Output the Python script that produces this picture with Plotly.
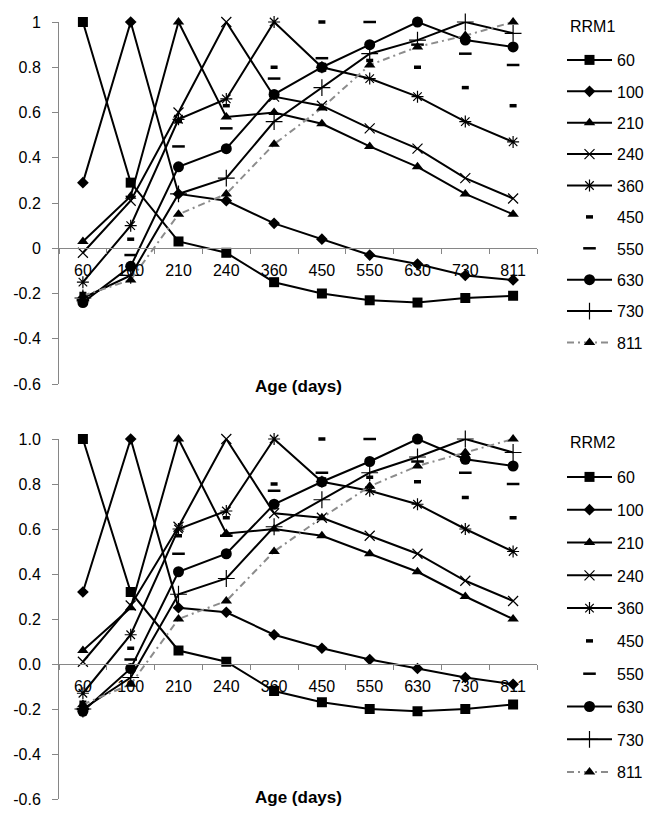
import plotly.graph_objects as go

ages = ["60", "100", "210", "240", "360", "450", "550", "630", "730", "811"]

# RRM1 (top panel) - one list per series
rrm1_60 = [1.00, 0.29, 0.03, -0.02, -0.15, -0.20, -0.23, -0.24, -0.22, -0.21]
rrm1_100 = [0.29, 1.00, 0.24, 0.21, 0.11, 0.04, -0.03, -0.07, -0.12, -0.14]
rrm1_210 = [0.03, 0.23, 1.00, 0.58, 0.60, 0.55, 0.45, 0.36, 0.24, 0.15]
rrm1_240 = [-0.02, 0.21, 0.60, 1.00, 0.67, 0.63, 0.53, 0.44, 0.31, 0.22]
rrm1_360 = [-0.15, 0.10, 0.57, 0.66, 1.00, 0.80, 0.75, 0.67, 0.56, 0.47]
rrm1_450 = [-0.20, 0.04, 0.56, 0.63, 0.80, 1.00, 0.83, 0.80, 0.71, 0.63]
rrm1_550 = [-0.23, -0.03, 0.45, 0.53, 0.75, 0.84, 1.00, 0.90, 0.86, 0.81]
rrm1_630 = [-0.24, -0.08, 0.36, 0.44, 0.68, 0.80, 0.90, 1.00, 0.92, 0.89]
rrm1_730 = [-0.22, -0.12, 0.24, 0.31, 0.56, 0.71, 0.86, 0.92, 1.00, 0.95]
rrm1_811 = [-0.21, -0.14, 0.15, 0.24, 0.46, 0.62, 0.81, 0.89, 0.94, 1.00]

# RRM2 (bottom panel)
rrm2_60 = [1.00, 0.32, 0.06, 0.01, -0.12, -0.17, -0.20, -0.21, -0.20, -0.18]
rrm2_100 = [0.32, 1.00, 0.25, 0.23, 0.13, 0.07, 0.02, -0.02, -0.06, -0.09]
rrm2_210 = [0.06, 0.25, 1.00, 0.58, 0.60, 0.57, 0.49, 0.41, 0.30, 0.20]
rrm2_240 = [0.01, 0.26, 0.61, 1.00, 0.67, 0.65, 0.57, 0.49, 0.37, 0.28]
rrm2_360 = [-0.13, 0.13, 0.60, 0.68, 1.00, 0.81, 0.77, 0.71, 0.60, 0.50]
rrm2_450 = [-0.17, 0.07, 0.57, 0.65, 0.80, 1.00, 0.83, 0.81, 0.74, 0.65]
rrm2_550 = [-0.20, 0.02, 0.49, 0.57, 0.77, 0.85, 1.00, 0.90, 0.85, 0.80]
rrm2_630 = [-0.21, -0.02, 0.41, 0.49, 0.71, 0.81, 0.90, 1.00, 0.91, 0.88]
rrm2_730 = [-0.20, -0.06, 0.31, 0.38, 0.61, 0.73, 0.85, 0.92, 1.00, 0.94]
rrm2_811 = [-0.18, -0.09, 0.20, 0.28, 0.50, 0.65, 0.79, 0.88, 0.94, 1.00]

series_names = ["60", "100", "210", "240", "360", "450", "550", "630", "730", "811"]
rrm1_series = [rrm1_60, rrm1_100, rrm1_210, rrm1_240, rrm1_360,
               rrm1_450, rrm1_550, rrm1_630, rrm1_730, rrm1_811]
rrm2_series = [rrm2_60, rrm2_100, rrm2_210, rrm2_240, rrm2_360,
               rrm2_450, rrm2_550, rrm2_630, rrm2_730, rrm2_811]

ytick_vals = [1.0, 0.8, 0.6, 0.4, 0.2, 0.0, -0.2, -0.4, -0.6]
ytick_text1 = ["1", "0.8", "0.6", "0.4", "0.2", "0", "-0.2", "-0.4", "-0.6"]
ytick_text2 = ["1.0", "0.8", "0.6", "0.4", "0.2", "0.0", "-0.2", "-0.4", "-0.6"]

FONT = "Liberation Sans, Arial, sans-serif"
BLACK = "#000000"
AXIS_GRAY = "#868686"

styles = {
    "60": dict(mode="lines+markers", symbol="square", size=10, line=dict(color=BLACK, width=2)),
    "100": dict(mode="lines+markers", symbol="diamond", size=9, line=dict(color=BLACK, width=2)),
    "210": dict(mode="lines+markers", symbol="triangle-up", size=10, line=dict(color=BLACK, width=2)),
    "240": dict(mode="lines+markers", symbol="x-thin", size=10, line=dict(color=BLACK, width=2)),
    "360": dict(mode="lines+markers", symbol="asterisk", size=10, line=dict(color=BLACK, width=2)),
    "450": dict(mode="markers", symbol="line-ew", size=5, line=None),
    "550": dict(mode="markers", symbol="line-ew", size=9, line=None),
    "630": dict(mode="lines+markers", symbol="circle", size=11, line=dict(color=BLACK, width=2)),
    "730": dict(mode="lines+markers", symbol="cross-thin", size=12, line=dict(color=BLACK, width=2)),
    "811": dict(mode="lines+markers", symbol="triangle-up", size=10,
                line=dict(color="#8c8c8c", width=2, dash="7px,4px,2px,4px")),
}

open_syms = {"x-thin", "asterisk", "cross-thin", "line-ew"}


def marker_for(name):
    st = styles[name]
    sym = st["symbol"]
    if sym in open_syms:
        lw = 1.2
        if name == "450":
            lw = 3.5
        elif name == "550":
            lw = 2.5
        return dict(symbol=sym, size=st["size"], color=BLACK,
                    line=dict(color=BLACK, width=lw))
    return dict(symbol=sym, size=st["size"], color=BLACK, line=dict(width=0))


fig = go.Figure()

for panel, (series, xa, ya, leg) in enumerate([
        (rrm1_series, "x", "y", "legend"),
        (rrm2_series, "x2", "y2", "legend2")]):
    for name, vals in zip(series_names, series):
        st = styles[name]
        kw = dict(x=ages, y=vals, name=name, mode=st["mode"],
                  marker=marker_for(name), xaxis=xa, yaxis=ya,
                  legend=leg, legendgroup=f"p{panel}_{name}", cliponaxis=False)
        if st["line"] is not None:
            kw["line"] = st["line"]
        fig.add_trace(go.Scatter(**kw))

# layout geometry (pixels -> paper fractions)
W, H = 647, 814
ML, MR, MT, MB = 59, 110, 22, 15
plot_h = H - MT - MB
plot_w = W - ML - MR


def fy(py):
    return (H - MB - py) / plot_h


def fx(px):
    return (px - ML) / plot_w


top_dom = [fy(384), 1.0]
bot_dom = [0.0, fy(439)]
zero_frac = 0.6 / 1.6


def yaxis_cfg(dom, ticktext):
    return dict(domain=dom, range=[-0.6, 1.0], tickvals=ytick_vals, ticktext=ticktext,
                showgrid=False, zeroline=False, showline=True, linecolor=AXIS_GRAY,
                linewidth=1, ticks="outside", ticklen=6, tickcolor=AXIS_GRAY,
                ticklabelstandoff=8,
                tickfont=dict(family=FONT, size=16, color=BLACK), fixedrange=True)


def xaxis_cfg(dom_y):
    pos = dom_y[0] + zero_frac * (dom_y[1] - dom_y[0])
    return dict(type="category", categoryorder="array", categoryarray=ages,
                domain=[0, 1], anchor="free", position=pos,
                showgrid=False, zeroline=False, showline=True, linecolor=AXIS_GRAY,
                linewidth=1, ticks="outside", ticklen=5, tickcolor=AXIS_GRAY,
                tickson="boundaries", ticklabelstandoff=8,
                tickfont=dict(family=FONT, size=16, color=BLACK),
                range=[-0.5, 9.5], fixedrange=True)


legend_common = dict(font=dict(family=FONT, size=16, color=BLACK), bgcolor="rgba(0,0,0,0)",
                     xanchor="left", yanchor="top", itemwidth=45,
                     itemclick=False, itemdoubleclick=False)

fig.update_layout(
    width=W, height=H,
    margin=dict(l=ML, r=MR, t=MT, b=MB, autoexpand=False),
    paper_bgcolor="white", plot_bgcolor="white",
    showlegend=True,
    xaxis=xaxis_cfg(top_dom),
    yaxis=dict(**yaxis_cfg(top_dom, ytick_text1), anchor="x"),
    xaxis2=xaxis_cfg(bot_dom),
    yaxis2=dict(**yaxis_cfg(bot_dom, ytick_text2), anchor="x2"),
    legend=dict(**legend_common, x=fx(562), y=fy(43), tracegroupgap=7.6),
    legend2=dict(**legend_common, x=fx(562), y=fy(460), tracegroupgap=9.0),
    annotations=[
        dict(text="RRM1", xref="paper", yref="paper", x=fx(568), y=fy(27),
             xanchor="left", yanchor="middle", showarrow=False,
             font=dict(family=FONT, size=16, color=BLACK)),
        dict(text="RRM2", xref="paper", yref="paper", x=fx(568), y=fy(442),
             xanchor="left", yanchor="middle", showarrow=False,
             font=dict(family=FONT, size=16, color=BLACK)),
        dict(text="<b>Age (days)</b>", xref="paper", yref="paper", x=0.5, y=fy(386),
             xanchor="center", yanchor="middle", showarrow=False,
             font=dict(family=FONT, size=17, color=BLACK)),
        dict(text="<b>Age (days)</b>", xref="paper", yref="paper", x=0.5, y=fy(797),
             xanchor="center", yanchor="middle", showarrow=False,
             font=dict(family=FONT, size=17, color=BLACK)),
    ],
)

fig.write_html("out.html")
